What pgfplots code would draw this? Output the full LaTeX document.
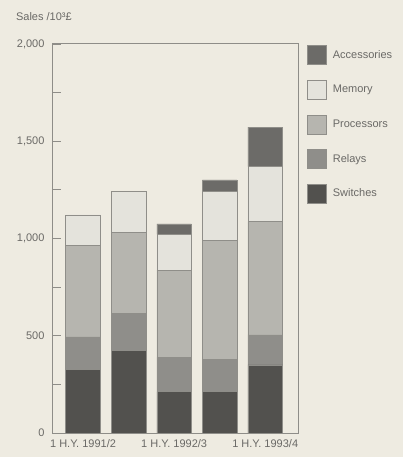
\documentclass[border=0pt]{standalone}
\usepackage{pgfplots}
\pgfplotsset{compat=1.18}
\usepackage{fontspec}
\setmainfont{Liberation Sans}
\definecolor{bg}{HTML}{EEEBE1}
\definecolor{txt}{HTML}{6A6966}
\definecolor{axc}{HTML}{8E8D88}
\definecolor{cSw}{HTML}{52514E}
\definecolor{cRe}{HTML}{8F8E8A}
\definecolor{cPr}{HTML}{B6B5AF}
\definecolor{cMe}{HTML}{E4E3DC}
\definecolor{cAc}{HTML}{6C6B68}
\definecolor{edge}{HTML}{8F8E89}
\newcommand\cf{\fontsize{11bp}{13bp}\selectfont}
\begin{document}
\begin{tikzpicture}
\path[fill=bg, use as bounding box] (-53bp,-24bp) rectangle (350bp,433bp);
\begin{axis}[
  at={(0,0)}, anchor=south west,
  scale only axis, width=245bp, height=389bp,
  ybar stacked, bar width=0.76,
  xmin=-0.66, xmax=4.72, ymin=0, ymax=2000,
  xtick={0,2,4},
  xticklabels={1 H.Y. 1991/2, 1 H.Y. 1992/3, 1 H.Y. 1993/4},
  major x tick style={draw=none},
  ytick={0,500,1000,1500,2000},
  minor y tick num=1,
  ytick pos=left,
  tick align=inside,
  major tick length=8bp, minor tick length=8bp,
  axis line style={draw=axc, line width=1bp},
  every tick/.style={draw=axc, line width=0.9bp},
  y tick label style={/pgf/number format/1000 sep={,}, /pgf/number format/assume math mode=true, xshift=-5bp},
  x tick label style={yshift=-3bp},
  tick label style={font=\cf, text=txt},
  title={Sales /10³£},
  title style={font=\cf, text=txt, at={(-0.165,1.056)}, anchor=west},
  reverse legend,
  legend style={at={(1.037,0.997)}, anchor=north west, draw=none, fill=none,
    font=\cf, text=txt, inner sep=0pt, row sep=15bp,
    /tikz/every odd column/.append style={column sep=4bp}},
  legend cell align=left,
  legend image code/.code={\draw[#1, draw=edge, line width=0.6bp] (0bp,-9.5bp) rectangle (19bp,9.5bp);},
  every axis plot/.append style={draw=edge, line width=0.6bp},
]
\addplot[fill=cSw] coordinates {(0,329) (1,423) (2,212) (3,212) (4,350)};
\addplot[fill=cRe] coordinates {(0,165) (1,192) (2,177) (3,167) (4,154)};
\addplot[fill=cPr] coordinates {(0,469) (1,415) (2,449) (3,613) (4,583)};
\addplot[fill=cMe] coordinates {(0,158) (1,211) (2,183) (3,249) (4,282)};
\addplot[fill=cAc] coordinates {(0,0) (1,0) (2,54) (3,60) (4,203)};
\legend{Switches, Relays, Processors, Memory, Accessories}
\end{axis}
\end{tikzpicture}
\end{document}
